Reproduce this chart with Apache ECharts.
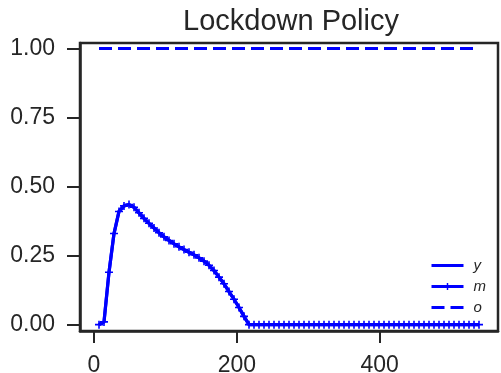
<!DOCTYPE html>
<html>
<head>
<meta charset="utf-8">
<script src="https://cdn.jsdelivr.net/npm/echarts@6/dist/echarts.min.js"></script>
<style>
  html, body { margin: 0; padding: 0; background: #fff; }
  #chart { width: 501px; height: 373px; }
</style>
</head>
<body>
<div id="chart"></div>
<script>
const days = [
  7, 14, 21, 28, 35, 42, 49, 56, 63, 70, 77, 84, 91, 98, 105, 112, 119, 126, 133, 140,
  147, 154, 161, 168, 175, 182, 189, 196, 203, 210, 217, 224, 231, 238, 245, 252, 259, 266, 273, 280,
  287, 294, 301, 308, 315, 322, 329, 336, 343, 350, 357, 364, 371, 378, 385, 392, 399, 406, 413, 420,
  427, 434, 441, 448, 455, 462, 469, 476, 483, 490, 497, 504, 511, 518, 525, 532, 539
]

const policyY = [
  0.00, 0.01, 0.19, 0.33, 0.41, 0.43, 0.435, 0.425, 0.405, 0.385, 0.367, 0.350, 0.333, 0.318, 0.305, 0.293, 0.282, 0.272, 0.262, 0.253,
  0.242, 0.230, 0.215, 0.196, 0.172, 0.148, 0.120, 0.092, 0.062, 0.030, 0, 0, 0, 0, 0, 0, 0, 0, 0, 0,
  0, 0, 0, 0, 0, 0, 0, 0, 0, 0, 0, 0, 0, 0, 0, 0, 0, 0, 0, 0,
  0, 0, 0, 0, 0, 0, 0, 0, 0, 0, 0, 0, 0, 0, 0, 0, 0
]

const policyM = [
  0.00, 0.01, 0.19, 0.33, 0.41, 0.43, 0.435, 0.425, 0.405, 0.385, 0.367, 0.350, 0.333, 0.318, 0.305, 0.293, 0.282, 0.272, 0.262, 0.253,
  0.242, 0.230, 0.215, 0.196, 0.172, 0.148, 0.120, 0.092, 0.062, 0.030, 0, 0, 0, 0, 0, 0, 0, 0, 0, 0,
  0, 0, 0, 0, 0, 0, 0, 0, 0, 0, 0, 0, 0, 0, 0, 0, 0, 0, 0, 0,
  0, 0, 0, 0, 0, 0, 0, 0, 0, 0, 0, 0, 0, 0, 0, 0, 0
]

const policyO = [
  1, 1, 1, 1, 1, 1, 1, 1, 1, 1, 1, 1, 1, 1, 1, 1, 1, 1, 1, 1,
  1, 1, 1, 1, 1, 1, 1, 1, 1, 1, 1, 1, 1, 1, 1, 1, 1, 1, 1, 1,
  1, 1, 1, 1, 1, 1, 1, 1, 1, 1, 1, 1, 1, 1, 1, 1, 1, 1, 1, 1,
  1, 1, 1, 1, 1, 1, 1, 1, 1, 1, 1, 1, 1, 1, 1, 1, 1
]

const seriesNames = ['y', 'm', 'o']
const xTicks = [0, 200, 400]
const yTickValues = [0, 0.25, 0.5, 0.75, 1]
const yTicks = ['0.00', '0.25', '0.50', '0.75', '1.00']

const pair = (xs, ys) => xs.map((x, i) => [x, ys[i]])

const plusIcon = 'path://M4,0H6V4H10V6H6V10H4V6H0V4H4Z'
const ink = '#262626'
const blue = '#0000ff'
const font = 'Liberation Sans, Arial, sans-serif'

const chart = echarts.init(document.getElementById('chart'))

chart.setOption({
  animation: false,
  backgroundColor: '#fff',
  title: {
    text: 'Lockdown Policy',
    left: 286,
    top: 2,
    textAlign: 'center',
    textStyle: { color: ink, fontSize: 29, fontWeight: 'normal', fontFamily: font }
  },
  legend: {
    data: [
      { name: seriesNames[0], itemStyle: { opacity: 0 } },
      { name: seriesNames[1] },
      { name: seriesNames[2], itemStyle: { opacity: 0 } }
    ],
    orient: 'vertical',
    right: 10,
    top: 253,
    itemWidth: 32,
    itemHeight: 9,
    itemGap: 6,
    lineStyle: { width: 3.2 },
    textStyle: { color: ink, fontSize: 15, fontStyle: 'italic', fontFamily: font, padding: [0, 0, 0, 5] }
  },
  grid: {
    left: 80,
    right: 3,
    top: 43,
    bottom: 42,
    outerBoundsMode: 'none',
    show: true,
    borderColor: ink,
    borderWidth: 2.5,
    backgroundColor: 'transparent'
  },
  xAxis: {
    type: 'value',
    min: -19.6,
    max: 565.6,
    splitLine: { show: false },
    axisLine: { onZero: false, lineStyle: { color: ink, width: 2.5 } },
    axisTick: { length: 12, lineStyle: { color: ink, width: 2 }, customValues: xTicks },
    axisLabel: { color: ink, fontSize: 23, fontFamily: font, margin: 23, customValues: xTicks }
  },
  yAxis: {
    type: 'value',
    min: -0.023,
    max: 1.02,
    splitLine: { show: false },
    axisLine: { show: true, onZero: false, lineStyle: { color: ink, width: 2.5 } },
    axisTick: { show: true, length: 13, lineStyle: { color: ink, width: 2 }, customValues: yTickValues },
    axisLabel: {
      color: ink, fontSize: 23, fontFamily: font, margin: 25,
      customValues: yTickValues,
      formatter: v => yTicks[Math.round(v * 4)]
    }
  },
  series: [
    {
      name: 'y',
      type: 'line',
      data: pair(days, policyY),
      symbol: 'none',
      color: blue,
      lineStyle: { width: 3.2, color: blue }
    },
    {
      name: 'm',
      type: 'line',
      data: pair(days, policyM),
      symbol: plusIcon,
      symbolSize: 8,
      showAllSymbol: true,
      color: blue,
      itemStyle: { color: blue },
      lineStyle: { width: 3.2, color: blue }
    },
    {
      name: 'o',
      type: 'line',
      data: pair(days, policyO),
      symbol: 'none',
      color: blue,
      lineStyle: { width: 3, color: blue, type: [13, 6] }
    }
  ]
})
</script>
</body>
</html>
